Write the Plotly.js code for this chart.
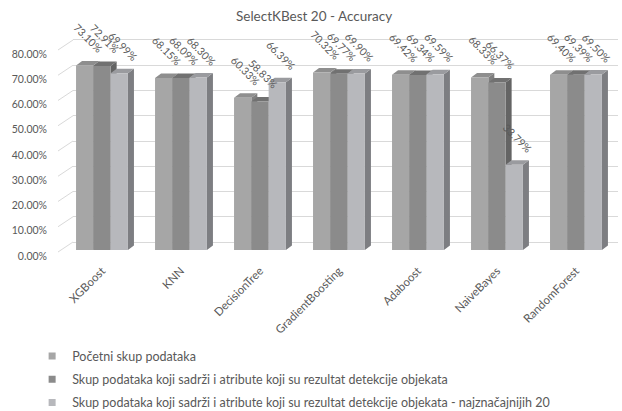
<!DOCTYPE html>
<html>
<head>
<meta charset="utf-8">
<script src="https://cdn.plot.ly/plotly-3.0.1.min.js"></script>
<style>html,body{margin:0;padding:0;background:#fff;}#chart{width:622px;height:411px;}</style>
</head>
<body>
<div id="chart"></div>
<script>
// ---- data ----
const categories = ['XGBoost', 'KNN', 'DecisionTree', 'GradientBoosting', 'Adaboost', 'NaiveBayes', 'RandomForest'];
const seriesNames = [
  'Početni skup podataka',
  'Skup podataka koji sadrži i atribute koji su rezultat detekcije objekata',
  'Skup podataka koji sadrži i atribute koji su rezultat detekcije objekata - najznačajnijih 20'
];
const initialSet = [73.10, 68.15, 60.33, 70.32, 69.42, 68.33, 69.40];
const withDetection = [72.91, 68.09, 58.83, 69.77, 69.34, 66.37, 69.39];
const top20 = [69.99, 68.30, 66.39, 69.90, 69.59, 33.79, 69.50];
const yTickVals = [0, 10, 20, 30, 40, 50, 60, 70, 80];
const yTickText = ['0.00%', '10.00%', '20.00%', '30.00%', '40.00%', '50.00%', '60.00%', '70.00%', '80.00%'];

// ---- styling ----
const series = [initialSet, withDetection, top20];
const frontColors = ['#a6a6a6', '#8b8b8b', '#b7b8bc'];
const topColors = ['#8e8e8e', '#717171', '#9a9b9f'];
const sideColors = ['#7f7f7f', '#646464', '#7d7e82'];
const textColor = '#595959';
const FONT = 'Lato, "Open Sans", sans-serif';

const xPos = categories.map((c, i) => i);
const bargap = 0.343;
const w = (1 - bargap) / 3;     // width of one bar in x units
const dx = 0.076;               // 3D depth offset in x units
const dy = 1.78;                // 3D depth offset in y units (front scale)
const frontRange = [-0.792, 83.96];
const backRange = [-3.96, 80.79];
const wallShiftPaper = -15 / 545;

const traces = [];
// dummy trace so that yaxis2 (back wall grid) is active
traces.push({type: 'scatter', mode: 'lines', x: [], y: [], xaxis: 'x', yaxis: 'y2', showlegend: false, hoverinfo: 'skip'});
// 3D faces (side + top), drawn under the fronts
series.forEach((vals, k) => {
  const sx = [], sy = [], tx = [], ty = [];
  vals.forEach((v, i) => {
    const c = xPos[i] + (k - 1) * w;
    const xl = c - w / 2, xr = c + w / 2;
    sx.push(xr, xr + dx, xr + dx, xr, xr, null);
    sy.push(0, dy, v + dy, v, 0, null);
    tx.push(xl, xr, xr + dx, xl + dx, xl, null);
    ty.push(v, v, v + dy, v + dy, v, null);
  });
  traces.push({type: 'scatter', mode: 'lines', x: sx, y: sy, fill: 'toself', fillcolor: sideColors[k],
    line: {width: 0, color: sideColors[k]}, showlegend: false, hoverinfo: 'skip', xaxis: 'x', yaxis: 'y'});
  traces.push({type: 'scatter', mode: 'lines', x: tx, y: ty, fill: 'toself', fillcolor: topColors[k],
    line: {width: 0, color: topColors[k]}, showlegend: false, hoverinfo: 'skip', xaxis: 'x', yaxis: 'y'});
});
// bar fronts
series.forEach((vals, k) => {
  traces.push({
    type: 'bar', name: seriesNames[k], x: xPos, y: vals, xaxis: 'x', yaxis: 'y3',
    marker: {color: frontColors[k], line: {width: 0}},
    showlegend: false, legendgroup: 'g' + k, hoverinfo: 'skip'
  });
});
// legend entries (small square swatches)
series.forEach((vals, k) => {
  traces.push({type: 'scatter', mode: 'markers', name: seriesNames[k], x: [null], y: [null],
    xaxis: 'x', yaxis: 'y3', marker: {symbol: 'square', size: 7, color: frontColors[k]},
    legendgroup: 'g' + k, hoverinfo: 'skip'});
});

// data labels
const annotations = [];
series.forEach((vals, k) => {
  vals.forEach((v, i) => {
    annotations.push({x: xPos[i] + (k - 1) * w + dx / 2, y: v, xref: 'x', yref: 'y',
      text: v.toFixed(2) + '%', showarrow: false, textangle: 45, yshift: 27,
      font: {family: FONT, size: 10.5, color: textColor}});
  });
});

// slanted side-wall grid segments
const shapes = yTickVals.map(v => {
  const py = (v - backRange[0]) / (backRange[1] - backRange[0]);
  const pyFront = py - 10 / 214;
  return {type: 'line', xref: 'paper', yref: 'paper', x0: wallShiftPaper, y0: pyFront, x1: 0, y1: py,
    line: {color: '#d9d9d9', width: 1}, layer: 'below'};
});

const layout = {
  width: 622, height: 411,
  margin: {l: 73, r: 4, t: 38, b: 159, autoexpand: false},
  paper_bgcolor: '#ffffff', plot_bgcolor: '#ffffff',
  font: {family: FONT, color: textColor, size: 11},
  title: {text: 'SelectKBest 20 - Accuracy', font: {family: FONT, size: 13.5, color: textColor},
    x: 0.505, xref: 'container', y: 1 - 16 / 411, yref: 'container', yanchor: 'middle'},
  barmode: 'group', bargap: bargap, bargroupgap: 0,
  showlegend: true,
  legend: {orientation: 'v', x: -0.075, xanchor: 'left', y: -0.418, yanchor: 'top',
    font: {family: FONT, size: 12.5, color: textColor}, traceorder: 'grouped', tracegroupgap: 4,
    bgcolor: 'rgba(0,0,0,0)'},
  xaxis: {range: [-0.367, 6.532], tickmode: 'array', tickvals: xPos, ticktext: categories,
    tickangle: -45, showgrid: false, zeroline: false, showline: false, ticks: '', automargin: false,
    tickfont: {family: FONT, size: 11.5, color: textColor}, ticklabelstandoff: 9},
  yaxis: {range: frontRange, tickmode: 'array', tickvals: yTickVals, ticktext: yTickText, automargin: false,
    showgrid: false, zeroline: false, showline: false, ticks: '', ticklabelstandoff: 25,
    ticklabelshift: 6,
    tickfont: {family: FONT, size: 10.5, color: textColor}},
  yaxis2: {range: backRange, overlaying: 'y', tickmode: 'array', tickvals: yTickVals, automargin: false,
    showgrid: true, gridcolor: '#d9d9d9', gridwidth: 1, zeroline: false, showticklabels: false, ticks: ''},
  yaxis3: {range: frontRange, overlaying: 'y', showgrid: false, zeroline: false, showticklabels: false, ticks: '', automargin: false},
  shapes: shapes,
  annotations: annotations
};

Plotly.newPlot('chart', traces, layout, {displayModeBar: false, staticPlot: true});
</script>
</body>
</html>
